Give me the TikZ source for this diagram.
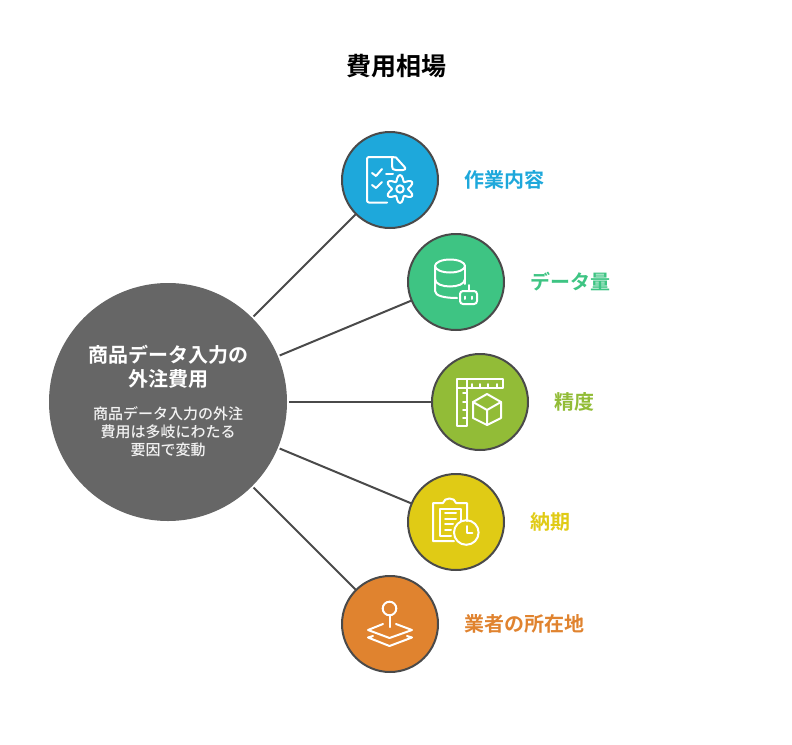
\documentclass[tikz,border=0pt]{standalone}
\usepackage{fontspec}
\setmainfont{Noto Sans CJK JP}[BoldFont=Noto Sans CJK JP Bold]
\newfontfamily\notefont{Noto Sans CJK JP Medium}
\usetikzlibrary{positioning}
\definecolor{costblue}{HTML}{1EA8DB}
\definecolor{costgreen}{HTML}{3EC483}
\definecolor{costolive}{HTML}{92BC37}
\definecolor{costyellow}{HTML}{E0CB15}
\definecolor{costorange}{HTML}{E0832F}
\definecolor{hubgray}{HTML}{666666}
\definecolor{edgegray}{HTML}{4A4A4A}
\tikzset{
  hub/.style={circle,fill=hubgray,minimum size=238pt,inner sep=0pt,outer sep=2pt},
  item/.style={circle,draw=edgegray,line width=2pt,minimum size=96pt,inner sep=0pt,outer sep=0pt},
  itemlabel/.style={font=\fontsize{20}{24}\selectfont\bfseries,inner sep=0pt,right=26pt of #1},
  hubtitle/.style={text=white,align=center,font=\fontsize{20}{24}\selectfont\bfseries,inner sep=0pt},
  hubtext/.style={text=white!95!black,align=center,font=\fontsize{15}{18}\selectfont\notefont,inner sep=0pt},
  link/.style={draw=edgegray,line width=2pt},
  icon/.style={draw=white,line width=2pt,line join=round,line cap=round}
}
\begin{document}
\begin{tikzpicture}[x=1pt,y=-1pt]
      \useasboundingbox (0,0) rectangle (792,744);
      \draw
        (396,66) node[font=\fontsize{25}{30}\selectfont\bfseries,inner sep=0pt] (title){費用相場}
        (168,402) node[hub] (hub){}
        (168,367) node[hubtitle] (hubname){商品データ入力の\\外注費用}
        (168,432) node[hubtext] (hubnote){商品データ入力の外注\\費用は多岐にわたる\\要因で変動};
      \draw
        (390,180) node[item,fill=costblue] (work){}
        (456,282) node[item,fill=costgreen] (volume){}
        (480,402) node[item,fill=costolive] (accuracy){}
        (456,522) node[item,fill=costyellow] (delivery){}
        (390,624) node[item,fill=costorange] (vendor){};
      \node[itemlabel=work,text=costblue] (worklabel){作業内容};
      \node[itemlabel=volume,text=costgreen] (volumelabel){データ量};
      \node[itemlabel=accuracy,text=costolive] (accuracylabel){精度};
      \node[itemlabel=delivery,text=costyellow] (deliverylabel){納期};
      \node[itemlabel=vendor,text=costorange] (vendorlabel){業者の所在地};
      \begin{scope}[link]
        \draw (hub) to (work);
        \draw (hub) to (volume);
        \draw (hub) to (accuracy);
        \draw (hub) to (delivery);
        \draw (hub) to (vendor);
      \end{scope}
      % document and gear
      \begin{scope}[icon]
        \draw (387,202.5) -- (369,202.5) arc (90:180:2) -- (367,159) arc (180:270:2) -- (392,157);
        \draw (392,157) -- (392,166) .. controls (392,169) and (393,170) .. (396,170) -- (403,170) .. controls (405,170) and (406,169) .. (405,167.5) -- (396,157.5) -- (392,157);
        \draw (372,173) -- (376,176) -- (382,169);
        \draw (386,174.3) -- (393,174.3);
        \draw (372,185) -- (376,188) -- (382,182);
        \draw[shift={(400,189)}] plot[smooth cycle,samples=48,domain=0:352.5] (\x:{11+3*cos(6*\x+180)});
        \draw (400,189) circle (3.7);
      \end{scope}
      % database and robot
      \begin{scope}[icon]
        \draw (450,266) ellipse (15 and 6.5);
        \draw (435,266) -- (435,291) .. controls (435,296) and (445,298) .. (457,298);
        \draw (465,266) -- (465,284);
        \draw (435,279) .. controls (435,289) and (465,289) .. (465,279);
        \draw[rounded corners=3pt] (460,291) rectangle (477,304);
        \draw (468.5,285) -- (468.5,291);
        \draw (465,296.5) -- (465,299);
        \draw (472,296.5) -- (472,299);
      \end{scope}
      % ruler and cube
      \begin{scope}[icon]
        \draw (457,379) -- (503,379) -- (503,388) -- (467,388) -- (467,426) -- (457,426) -- cycle;
        \draw (457,388) -- (467,388) (467,379) -- (467,388);
        \foreach \tick in {472,480,488,497}
          \draw (\tick,388) -- (\tick,384);
        \foreach \tick in {393,402,410,418}
          \draw (467,\tick) -- (463,\tick);
        \draw (487,394) -- (501,402) -- (501,418) -- (487,425) -- (473,418) -- (473,402) -- cycle;
        \draw (473,402) -- (487,410) -- (501,402) (487,410) -- (487,425);
      \end{scope}
      % clipboard and clock
      \begin{scope}[icon]
        \draw (454,541) -- (433,541) -- (433,503) -- (443,503) .. controls (444,497) and (455,497) .. (456,503) -- (467,503) -- (467,521);
        \draw (451,536) -- (440,536) -- (440,509) -- (461,509) -- (461,521);
        \draw (445,513) -- (456,513) (445,519) -- (456,519) (445,524) -- (453,524) (445,530) -- (451,530);
        \draw (466.3,532.5) circle (12.3);
        \draw (467.3,526) -- (467.3,532.5) -- (472.3,532.5);
      \end{scope}
      % pin and layers
      \begin{scope}[icon]
        \draw (389.5,608.5) circle (6.8);
        \draw (389.5,615.3) -- (389.5,627);
        \draw (383,624) -- (368,630) -- (389.5,638) -- (412,630) -- (396,624);
        \draw (373,636) -- (368,637.5) -- (389.5,646) -- (412,637.5) -- (407,636);
      \end{scope}
    \end{tikzpicture}
\end{document}
